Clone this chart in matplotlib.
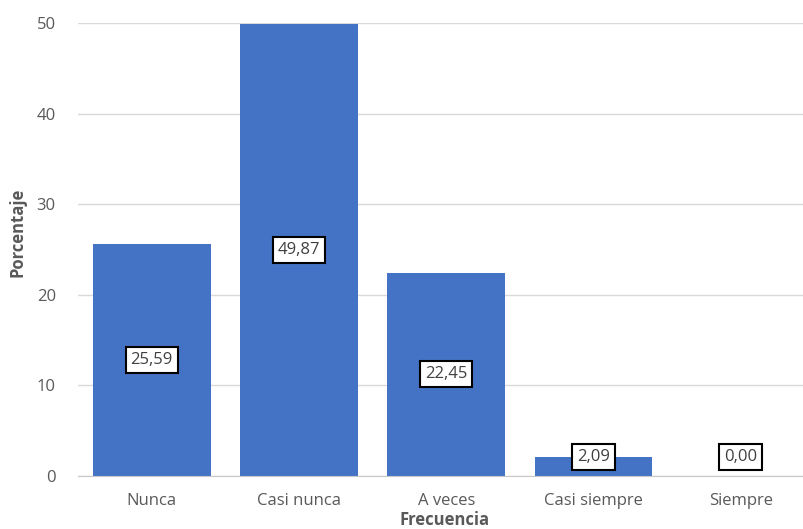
import matplotlib.pyplot as plt

categorias = ["Nunca", "Casi nunca", "A veces", "Casi siempre", "Siempre"]
porcentajes = [25.59, 49.87, 22.45, 2.09, 0.00]
etiquetas = ["25,59", "49,87", "22,45", "2,09", "0,00"]

plt.rcParams['font.family'] = ['Open Sans', 'DejaVu Sans']
gris = "#595959"

fig = plt.figure(figsize=(8.04, 5.29), dpi=100)
ax = fig.add_axes([78 / 804, 1 - 476 / 529, (814.5 - 78) / 804, (476 - 23) / 529])

x = range(len(categorias))
ax.bar(x, porcentajes, width=0.8, color="#4472C4", zorder=2)

for i, (v, t) in enumerate(zip(porcentajes, etiquetas)):
    y = max(v / 2, 2.1)
    ax.text(i, y, t, ha="center", va="center", fontsize=12, color="#404040", zorder=3,
            bbox=dict(boxstyle="square,pad=0.3", fc="white", ec="black", lw=1.5))

ax.set_xlim(-0.5, 4.5)
ax.set_ylim(0, 50)
ax.set_yticks([0, 10, 20, 30, 40, 50])
ax.set_xticks(list(x))
ax.set_xticklabels(categorias)
ax.tick_params(axis="both", length=0, labelsize=12, labelcolor=gris)
ax.tick_params(axis="x", pad=12)
ax.tick_params(axis="y", pad=16)
ax.grid(axis="y", color="#D9D9D9", lw=1, zorder=0)
for s in ["top", "right", "left"]:
    ax.spines[s].set_visible(False)
ax.spines["bottom"].set_color("#C8C8C8")

ax.set_xlabel("Frecuencia", fontsize=12, fontweight="bold", color=gris)
ax.set_ylabel("Porcentaje", fontsize=12, fontweight="bold", color=gris)
ax.xaxis.set_label_coords((445 - 78) / (814.5 - 78), -(511 - 476) / (476 - 23))
ax.yaxis.set_label_coords(-(78 - 27) / (814.5 - 78), (476 - 232) / (476 - 23))

fig.savefig("out.png", dpi=100)
